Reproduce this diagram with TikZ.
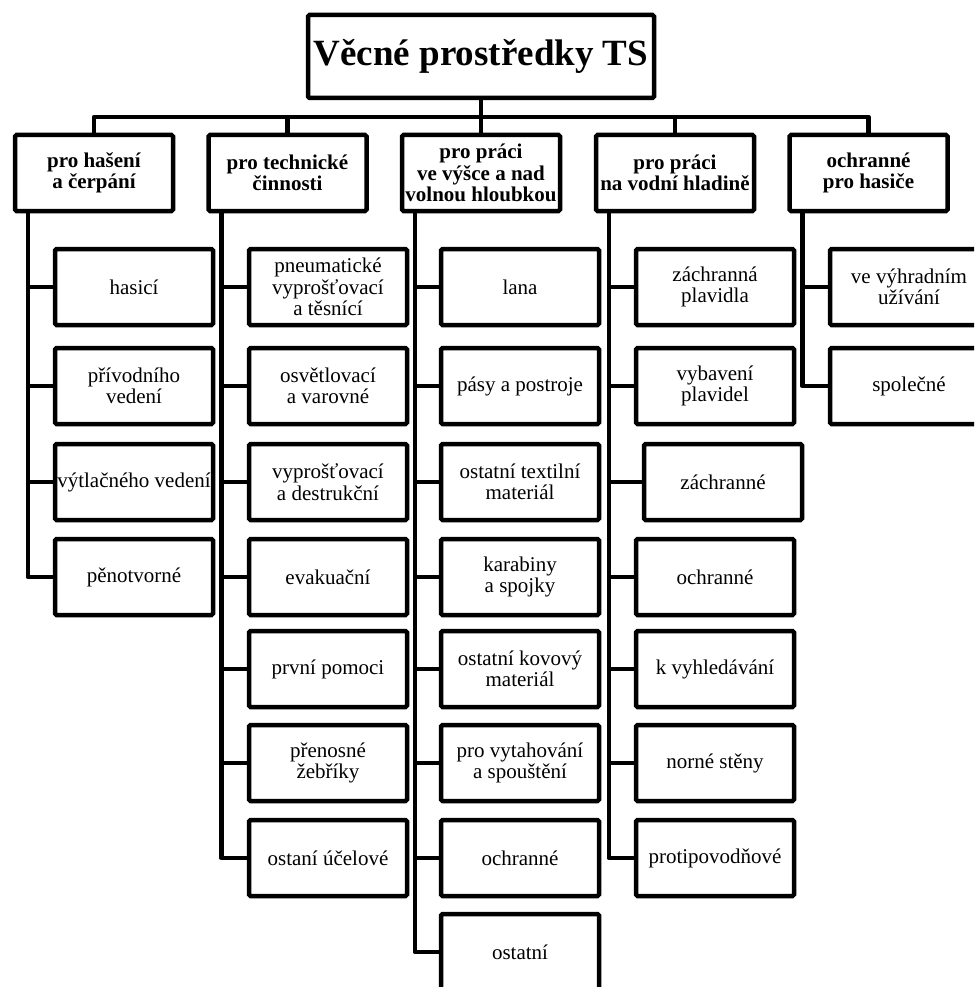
\documentclass[tikz,border=0pt]{standalone}
\usepackage{fontspec}
\setmainfont{Liberation Serif}
\usepackage{tikz}
\usetikzlibrary{positioning}
\usetikzlibrary{calc}

\begin{document}
\begin{tikzpicture}[x=1pt, y=-1pt,
    box/.style={draw=black, line width=4.5pt, rounded corners=1.5pt, fill=white, inner sep=0pt, align=center},
    head/.style={box, minimum width=346pt, minimum height=83pt, font=\bfseries\fontsize{37}{42}\selectfont},
    group/.style={box, minimum width=158pt, minimum height=76pt, font=\bfseries\fontsize{21}{21.5}\selectfont},
    item/.style={box, minimum width=158pt, minimum height=76pt, font=\fontsize{21}{21.5}\selectfont},
    link/.style={draw=black, line width=4.5pt, line join=round}]

    \useasboundingbox (0,0) rectangle (974,987);
    \clip (0,0) rectangle (974,987);

    % top
    \node[head] (title) at (481,56.5) {Věcné prostředky TS};
    \coordinate (bus) at (0,117);

    % groups
    \node[group] (g1) at (94,173) {pro hašení\\a čerpání};
    \node[group] (g2) at (287.5,173) {pro technické\\činnosti};
    \node[group] (g3) at (481,173) {pro práci\\ve výšce a nad\\volnou hloubkou};
    \node[group] (g4) at (675,173) {pro práci\\na vodní hladině};
    \node[group] (g5) at (868.5,173) {ochranné\\pro hasiče};

    \draw[link] (title.south) -- (title.south |- bus);
    \draw[link] (g1.north) -- (g1.north |- bus) -- (g5.north |- bus) -- (g5.north);
    \draw[link] (g2.north) -- (g2.north |- bus);
    \draw[link] (g3.north) -- (g3.north |- bus);
    \draw[link] (g4.north) -- (g4.north |- bus);

    % pro hašení
    \node[item] (g1a) at (134,287) {hasicí};
    \node[item] (g1b) at (134,386) {přívodního\\vedení};
    \node[item] (g1c) at (134,482) {výtlačného vedení};
    \node[item] (g1d) at (134,577) {pěnotvorné};

    % pro technické činnosti
    \node[item] (g2a) at (328,287) {pneumatické\\vyprošťovací\\a těsnící};
    \node[item] (g2b) at (328,386) {osvětlovací\\a varovné};
    \node[item] (g2c) at (328,482) {vyprošťovací\\a destrukční};
    \node[item] (g2d) at (328,577) {evakuační};
    \node[item] (g2e) at (328,669) {první pomoci};
    \node[item] (g2f) at (328,763) {přenosné\\žebříky};
    \node[item] (g2g) at (328,858) {ostaní účelové};

    % pro práci ve výšce
    \node[item] (g3a) at (520,287) {lana};
    \node[item] (g3b) at (520,386) {pásy a postroje};
    \node[item] (g3c) at (520,482) {ostatní textilní\\materiál};
    \node[item] (g3d) at (520,577) {karabiny\\a spojky};
    \node[item] (g3e) at (520,669) {ostatní kovový\\materiál};
    \node[item] (g3f) at (520,763) {pro vytahování\\a spouštění};
    \node[item] (g3g) at (520,858) {ochranné};
    \node[item] (g3h) at (520,952) {ostatní};

    % pro práci na vodní hladině
    \node[item] (g4a) at (715,287) {záchranná\\plavidla};
    \node[item] (g4b) at (715,386) {vybavení\\plavidel};
    \node[item] (g4c) at (723,482) {záchranné};
    \node[item] (g4d) at (715,577) {ochranné};
    \node[item] (g4e) at (715,669) {k vyhledávání};
    \node[item] (g4f) at (715,763) {norné stěny};
    \node[item] (g4g) at (715,858) {protipovodňové};

    % ochranné pro hasiče
    \node[item] (g5a) at (909,287) {ve výhradním\\užívání};
    \node[item] (g5b) at (909,386) {společné};

    % spines
    \coordinate (s1) at ([xshift=15pt]g1.south west);
    \coordinate (s2) at ([xshift=15pt]g2.south west);
    \coordinate (s3) at ([xshift=15pt]g3.south west);
    \coordinate (s4) at ([xshift=15pt]g4.south west);
    \coordinate (s5) at ([xshift=15pt]g5.south west);

    \draw[link] (s1) |- (g1d.west);
    \draw[link] (g1a.west) -- (g1a.west -| s1);
    \draw[link] (g1b.west) -- (g1b.west -| s1);
    \draw[link] (g1c.west) -- (g1c.west -| s1);

    \draw[link] (s2) |- (g2g.west);
    \draw[link] (g2a.west) -- (g2a.west -| s2);
    \draw[link] (g2b.west) -- (g2b.west -| s2);
    \draw[link] (g2c.west) -- (g2c.west -| s2);
    \draw[link] (g2d.west) -- (g2d.west -| s2);
    \draw[link] (g2e.west) -- (g2e.west -| s2);
    \draw[link] (g2f.west) -- (g2f.west -| s2);

    \draw[link] (s3) |- (g3h.west);
    \draw[link] (g3a.west) -- (g3a.west -| s3);
    \draw[link] (g3b.west) -- (g3b.west -| s3);
    \draw[link] (g3c.west) -- (g3c.west -| s3);
    \draw[link] (g3d.west) -- (g3d.west -| s3);
    \draw[link] (g3e.west) -- (g3e.west -| s3);
    \draw[link] (g3f.west) -- (g3f.west -| s3);
    \draw[link] (g3g.west) -- (g3g.west -| s3);

    \draw[link] (s4) |- (g4g.west);
    \draw[link] (g4a.west) -- (g4a.west -| s4);
    \draw[link] (g4b.west) -- (g4b.west -| s4);
    \draw[link] (g4c.west) -- (g4c.west -| s4);
    \draw[link] (g4d.west) -- (g4d.west -| s4);
    \draw[link] (g4e.west) -- (g4e.west -| s4);
    \draw[link] (g4f.west) -- (g4f.west -| s4);

    \draw[link] (s5) |- (g5b.west);
    \draw[link] (g5a.west) -- (g5a.west -| s5);

\end{tikzpicture}
\end{document}
